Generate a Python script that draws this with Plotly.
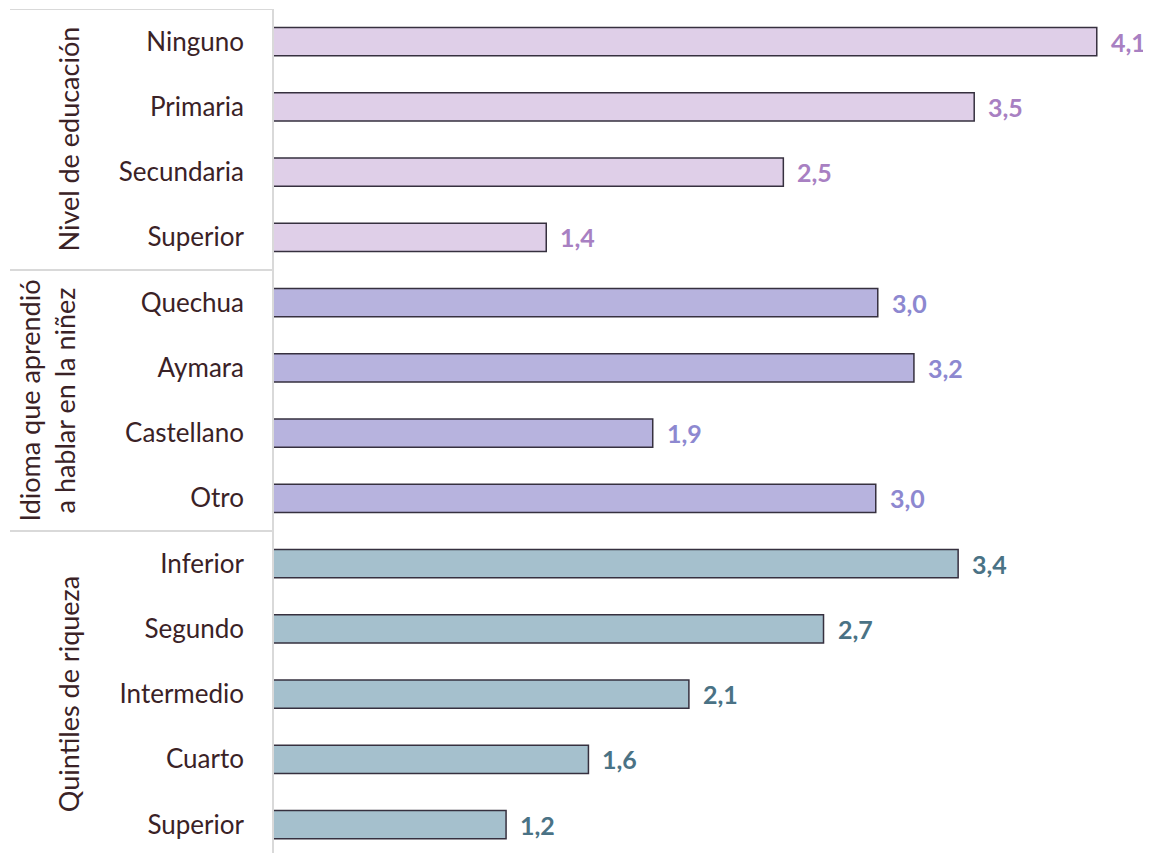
import plotly.graph_objects as go

educacion = ["Ninguno", "Primaria", "Secundaria", "Superior"]
educacion_val = [4.10, 3.49, 2.54, 1.36]

idioma = ["Quechua", "Aymara", "Castellano", "Otro"]
idioma_val = [3.01, 3.19, 1.89, 3.00]

quintiles = ["Inferior", "Segundo", "Intermedio", "Cuarto", "Superior"]
quintiles_val = [3.41, 2.74, 2.07, 1.57, 1.16]

grupos = [
    ("Nivel de educación", educacion, educacion_val, "#dfcfe8", "#a880c2", 60),
    ("Idioma que aprendió<br>a hablar en la niñez", idioma, idioma_val, "#b7b3de", "#8d88d0", 38),
    ("Quintiles de riqueza", quintiles, quintiles_val, "#a5c0cd", "#4a7285", 60),
]

# la pagina tiene 8px de margen en el body, asi que se descuenta
W, H = 1143, 845
L, R = 265, 4
FONT = "Lato"
TXT = "#3a2226"
ancho = W - L - R

fig = go.Figure()
tickvals, ticktext = [], []
annots = []
separadores = []
pos = 0
for titulo, cats, vals, fill, lab, tx in grupos:
    ys = list(range(pos, pos + len(cats)))
    fig.add_trace(go.Bar(
        x=vals, y=ys, orientation="h", width=0.43,
        marker=dict(color=fill, line=dict(color="#36303f", width=1.5)),
        showlegend=False, hoverinfo="x+y",
    ))
    for v, y in zip(vals, ys):
        annots.append(dict(
            x=v, y=y, xref="x", yref="y", text=f"{v:.1f}".replace(".", ","),
            showarrow=False, xanchor="left", xshift=12,
            font=dict(family=FONT, size=25, color=lab, weight="bold"),
        ))
    tickvals += ys
    ticktext += cats
    annots.append(dict(
        x=(tx - L) / ancho, y=(ys[0] + ys[-1]) / 2, xref="paper", yref="y",
        xanchor="center", yanchor="middle",
        text=titulo, showarrow=False, textangle=-90,
        font=dict(family=FONT, size=27, color=TXT),
    ))
    separadores.append(pos - 0.5)
    pos += len(cats)

shapes = []
for s in separadores:
    shapes.append(dict(type="line", xref="paper", yref="y",
                       x0=(2 - L) / ancho, x1=0, y0=s, y1=s,
                       line=dict(color="#d9d9d9", width=2)))
shapes.append(dict(type="line", xref="paper", yref="paper",
                   x0=0, x1=0, y0=0, y1=1,
                   line=dict(color="#d9d9d9", width=2)))

fig.update_layout(
    width=W, height=H,
    margin=dict(l=L, r=R, t=1, b=0),
    paper_bgcolor="white", plot_bgcolor="white",
    xaxis=dict(range=[0, 4.35], visible=False, fixedrange=True),
    yaxis=dict(
        range=[-0.5 + 844 / 65.25, -0.5],
        tickvals=tickvals, ticktext=ticktext,
        showgrid=False, zeroline=False, showline=False,
        ticks="", ticklabelstandoff=28, automargin=False,
        tickfont=dict(family=FONT, size=26, color=TXT),
    ),
    annotations=annots,
    shapes=shapes,
)

fig.write_html("out.html")
